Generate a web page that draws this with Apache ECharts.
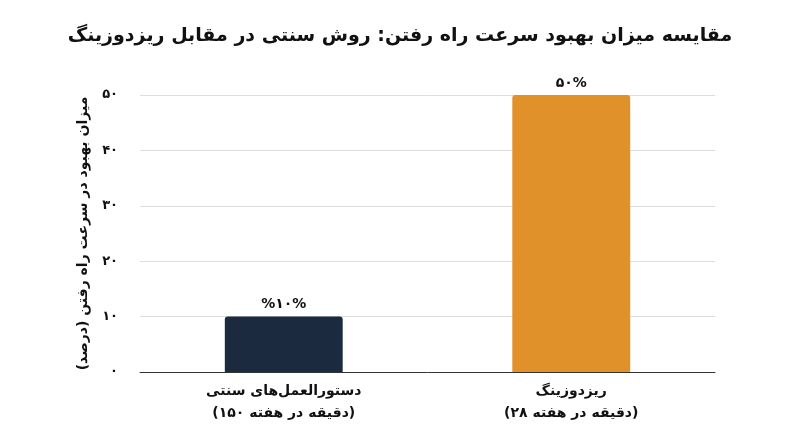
<!DOCTYPE html>
<html><head><meta charset="utf-8">
<script src="https://cdn.jsdelivr.net/npm/echarts@6/dist/echarts.min.js"></script>
<style>html,body{margin:0;background:#fff}#c{width:800px;height:447px}</style>
</head><body><div id="c"></div>
<script>
const categories = ['دستورالعمل‌های سنتی\n(۱۵۰ دقیقه در هفته)', 'ریزدوزینگ\n(۲۸ دقیقه در هفته)'];
const values = [10, 50];
const barLabels = ['%۱۰%', '۵۰%'];
const colors = ['#1c2a3f', '#e0912a'];
const tickLabels = {0:'۰',10:'۱۰',20:'۲۰',30:'۳۰',40:'۴۰',50:'۵۰'};
const F = 'DejaVu Sans';
const chart = echarts.init(document.getElementById('c'));
chart.setOption({
  animation:false,
  title:{text:'مقایسه میزان بهبود سرعت راه رفتن: روش سنتی در مقابل ریزدوزینگ',left:'center',top:22,
    textStyle:{fontFamily:F,fontSize:19,fontWeight:'bold',color:'#111'}},
  grid:{left:140,right:85,top:95,bottom:75},
  xAxis:{type:'category',data:categories,axisTick:{show:false},
    axisLine:{lineStyle:{color:'#333'}},
    axisLabel:{fontFamily:F,fontSize:14,fontWeight:'bold',color:'#111',lineHeight:22,margin:8}},
  yAxis:{type:'value',min:0,max:50,interval:10,
    name:'میزان بهبود در سرعت راه رفتن (درصد)',nameLocation:'middle',nameGap:50,nameRotate:90,
    nameTextStyle:{fontFamily:F,fontSize:14,fontWeight:'bold',color:'#111'},
    axisLabel:{fontFamily:F,fontSize:13,fontWeight:'bold',color:'#111',margin:22,formatter:v=>tickLabels[v]},
    splitLine:{lineStyle:{color:'#ddd'}}},
  series:[{type:'bar',barWidth:'41%',
    data:values.map((v,i)=>({value:v,itemStyle:{color:colors[i],borderRadius:[3,3,0,0]},
      label:{show:true,position:'top',formatter:barLabels[i],fontFamily:F,fontSize:14,fontWeight:'bold',color:'#111'}}))}]
});
</script></body></html>
